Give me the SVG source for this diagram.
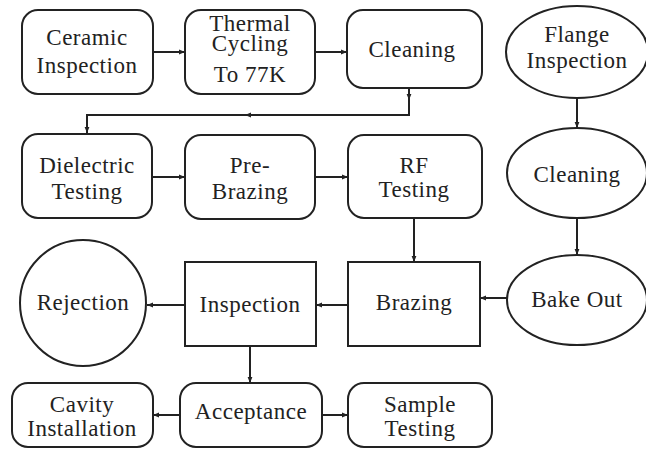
<svg xmlns="http://www.w3.org/2000/svg" width="646" height="449" viewBox="0 0 646 449">
<defs>
<marker id="ah" viewBox="0 0 10 10" refX="10" refY="5" markerWidth="6" markerHeight="6" orient="auto" markerUnits="userSpaceOnUse">
<path d="M0,1 L10,5 L0,9 z" fill="#222"/>
</marker>
</defs>
<style>
.n{fill:#fff;stroke:#222;stroke-width:2}
.c{fill:none;stroke:#222;stroke-width:2}
.t{font-family:'Liberation Serif','Times New Roman',serif;font-size:23px;letter-spacing:0.5px;fill:#222;text-anchor:middle}
</style>
<rect width="646" height="449" fill="#fff"/>
<g id="connectors">
<path class="c" d="M153 52 H185" marker-end="url(#ah)"/>
<path class="c" d="M315 52 H347" marker-end="url(#ah)"/>
<path class="c" d="M409 88 V100" marker-end="url(#ah)"/>
<path class="c" d="M409 100 V115 H245" marker-end="url(#ah)"/>
<path class="c" d="M245 115 H87 V133" marker-end="url(#ah)"/>
<path class="c" d="M152 177 H185" marker-end="url(#ah)"/>
<path class="c" d="M315 177 H348" marker-end="url(#ah)"/>
<path class="c" d="M577 98 V128" marker-end="url(#ah)"/>
<path class="c" d="M577 218 V255" marker-end="url(#ah)"/>
<path class="c" d="M414 218 V262" marker-end="url(#ah)"/>
<path class="c" d="M507 298 H480" marker-end="url(#ah)"/>
<path class="c" d="M348 305 H316" marker-end="url(#ah)"/>
<path class="c" d="M185 305 H147" marker-end="url(#ah)"/>
<path class="c" d="M250 346 V383" marker-end="url(#ah)"/>
<path class="c" d="M180 415 H153" marker-end="url(#ah)"/>
<path class="c" d="M322 415 H348" marker-end="url(#ah)"/>
</g>
<g id="ceramic-inspection">
<rect class="n" x="22" y="10" width="131" height="84" rx="16"/>
<text class="t" x="87" y="45">Ceramic</text>
<text class="t" x="87" y="73">Inspection</text>
</g>
<g id="thermal-cycling">
<rect class="n" x="185" y="10" width="130" height="84" rx="16"/>
<text class="t" x="250" y="31">Thermal</text>
<text class="t" x="250" y="51">Cycling</text>
<text class="t" x="250" y="82">To  77K</text>
</g>
<g id="cleaning-1">
<rect class="n" x="347" y="10" width="135" height="78" rx="16"/>
<text class="t" x="412" y="57">Cleaning</text>
</g>
<g id="flange-inspection">
<ellipse class="n" cx="577" cy="52" rx="71" ry="46"/>
<text class="t" x="577" y="42">Flange</text>
<text class="t" x="577" y="68">Inspection</text>
</g>
<g id="dielectric-testing">
<rect class="n" x="22" y="134" width="130" height="84" rx="16"/>
<text class="t" x="87" y="173">Dielectric</text>
<text class="t" x="87" y="199">Testing</text>
</g>
<g id="pre-brazing">
<rect class="n" x="185" y="135" width="130" height="84" rx="16"/>
<text class="t" x="250" y="173">Pre-</text>
<text class="t" x="250" y="199">Brazing</text>
</g>
<g id="rf-testing">
<rect class="n" x="348" y="135" width="134" height="83" rx="16"/>
<text class="t" x="414" y="173">RF</text>
<text class="t" x="414" y="197">Testing</text>
</g>
<g id="cleaning-2">
<ellipse class="n" cx="577" cy="173" rx="70" ry="45"/>
<text class="t" x="577" y="182">Cleaning</text>
</g>
<g id="rejection">
<circle class="n" cx="83" cy="303" r="63"/>
<text class="t" x="83" y="310">Rejection</text>
</g>
<g id="inspection">
<rect class="n" x="185" y="262" width="131" height="84"/>
<text class="t" x="250" y="312">Inspection</text>
</g>
<g id="brazing">
<rect class="n" x="348" y="262" width="132" height="84"/>
<text class="t" x="414" y="310">Brazing</text>
</g>
<g id="bake-out">
<ellipse class="n" cx="577" cy="300" rx="70" ry="45"/>
<text class="t" x="577" y="307">Bake Out</text>
</g>
<g id="cavity-installation">
<rect class="n" x="12" y="383" width="141" height="64" rx="16"/>
<text class="t" x="82" y="412">Cavity</text>
<text class="t" x="82" y="436">Installation</text>
</g>
<g id="acceptance">
<rect class="n" x="180" y="383" width="142" height="64" rx="16"/>
<text class="t" x="251" y="419">Acceptance</text>
</g>
<g id="sample-testing">
<rect class="n" x="348" y="383" width="144" height="64" rx="16"/>
<text class="t" x="420" y="412">Sample</text>
<text class="t" x="420" y="436">Testing</text>
</g>
</svg>
